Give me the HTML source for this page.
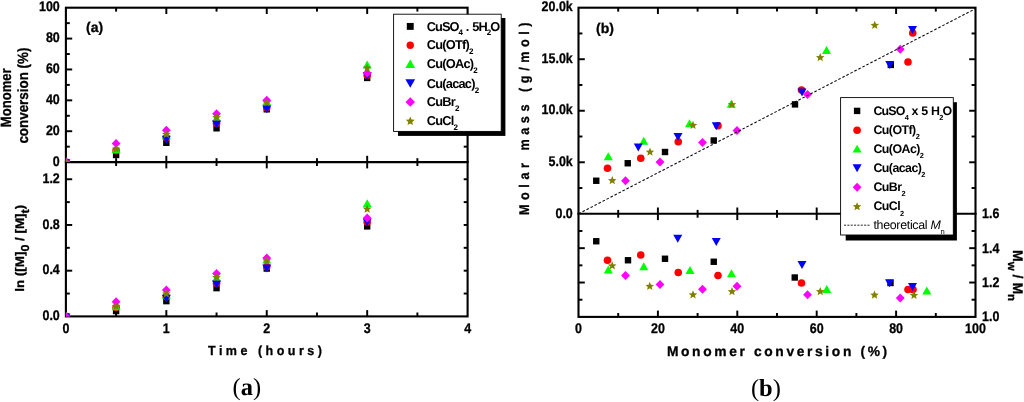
<!DOCTYPE html>
<html lang="en">
<head>
<meta charset="utf-8">
<title>Figure</title>
<style>
html,body{margin:0;padding:0;background:#fff;}
body{width:1024px;height:402px;overflow:hidden;}
svg{display:block;}
</style>
</head>
<body>
<svg width="1024" height="402" viewBox="0 0 1024 402" text-rendering="geometricPrecision">
<rect x="0" y="0" width="1024" height="402" fill="#fff"/>
<g stroke="#000" stroke-width="2.1" fill="none" stroke-linecap="square">
<rect x="65.9" y="7.7" width="401.70000000000005" height="308.7"/>
<line x1="65.9" y1="162.1" x2="467.6" y2="162.1"/>
</g>
<g stroke="#000" stroke-width="1.95" fill="none">
<line x1="116.11" y1="7.7" x2="116.11" y2="11.60"/>
<line x1="116.11" y1="158.20" x2="116.11" y2="166.00"/>
<line x1="116.11" y1="316.4" x2="116.11" y2="312.50"/>
<line x1="166.33" y1="7.7" x2="166.33" y2="14.00"/>
<line x1="166.33" y1="155.80" x2="166.33" y2="168.40"/>
<line x1="166.33" y1="316.4" x2="166.33" y2="310.10"/>
<line x1="216.54" y1="7.7" x2="216.54" y2="11.60"/>
<line x1="216.54" y1="158.20" x2="216.54" y2="166.00"/>
<line x1="216.54" y1="316.4" x2="216.54" y2="312.50"/>
<line x1="266.75" y1="7.7" x2="266.75" y2="14.00"/>
<line x1="266.75" y1="155.80" x2="266.75" y2="168.40"/>
<line x1="266.75" y1="316.4" x2="266.75" y2="310.10"/>
<line x1="316.96" y1="7.7" x2="316.96" y2="11.60"/>
<line x1="316.96" y1="158.20" x2="316.96" y2="166.00"/>
<line x1="316.96" y1="316.4" x2="316.96" y2="312.50"/>
<line x1="367.18" y1="7.7" x2="367.18" y2="14.00"/>
<line x1="367.18" y1="155.80" x2="367.18" y2="168.40"/>
<line x1="367.18" y1="316.4" x2="367.18" y2="310.10"/>
<line x1="417.39" y1="7.7" x2="417.39" y2="11.60"/>
<line x1="417.39" y1="158.20" x2="417.39" y2="166.00"/>
<line x1="417.39" y1="316.4" x2="417.39" y2="312.50"/>
<line x1="65.9" y1="146.66" x2="69.80" y2="146.66"/>
<line x1="467.6" y1="146.66" x2="463.70" y2="146.66"/>
<line x1="65.9" y1="131.22" x2="72.20" y2="131.22"/>
<line x1="467.6" y1="131.22" x2="463.70" y2="131.22"/>
<line x1="65.9" y1="115.78" x2="69.80" y2="115.78"/>
<line x1="467.6" y1="115.78" x2="463.70" y2="115.78"/>
<line x1="65.9" y1="100.34" x2="72.20" y2="100.34"/>
<line x1="467.6" y1="100.34" x2="463.70" y2="100.34"/>
<line x1="65.9" y1="84.90" x2="69.80" y2="84.90"/>
<line x1="467.6" y1="84.90" x2="463.70" y2="84.90"/>
<line x1="65.9" y1="69.46" x2="72.20" y2="69.46"/>
<line x1="467.6" y1="69.46" x2="463.70" y2="69.46"/>
<line x1="65.9" y1="54.02" x2="69.80" y2="54.02"/>
<line x1="467.6" y1="54.02" x2="463.70" y2="54.02"/>
<line x1="65.9" y1="38.58" x2="72.20" y2="38.58"/>
<line x1="467.6" y1="38.58" x2="463.70" y2="38.58"/>
<line x1="65.9" y1="23.14" x2="69.80" y2="23.14"/>
<line x1="467.6" y1="23.14" x2="463.70" y2="23.14"/>
<line x1="65.9" y1="293.54" x2="69.80" y2="293.54"/>
<line x1="467.6" y1="293.54" x2="463.70" y2="293.54"/>
<line x1="65.9" y1="270.68" x2="72.20" y2="270.68"/>
<line x1="467.6" y1="270.68" x2="463.70" y2="270.68"/>
<line x1="65.9" y1="247.82" x2="69.80" y2="247.82"/>
<line x1="467.6" y1="247.82" x2="463.70" y2="247.82"/>
<line x1="65.9" y1="224.97" x2="72.20" y2="224.97"/>
<line x1="467.6" y1="224.97" x2="463.70" y2="224.97"/>
<line x1="65.9" y1="202.11" x2="69.80" y2="202.11"/>
<line x1="467.6" y1="202.11" x2="463.70" y2="202.11"/>
<line x1="65.9" y1="179.25" x2="72.20" y2="179.25"/>
<line x1="467.6" y1="179.25" x2="463.70" y2="179.25"/>
</g>
<clipPath id="ca1"><rect x="65.9" y="0" width="401.70000000000005" height="162.1"/></clipPath>
<clipPath id="ca2"><rect x="65.9" y="163.15" width="401.70000000000005" height="153.24999999999997"/></clipPath>
<g clip-path="url(#ca1)">
<rect x="62.70" y="158.90" width="6.40" height="6.40" fill="#000000"/>
<rect x="112.91" y="151.80" width="6.40" height="6.40" fill="#000000"/>
<rect x="163.13" y="139.60" width="6.40" height="6.40" fill="#000000"/>
<rect x="213.34" y="125.09" width="6.40" height="6.40" fill="#000000"/>
<rect x="263.55" y="106.10" width="6.40" height="6.40" fill="#000000"/>
<rect x="363.98" y="74.75" width="6.40" height="6.40" fill="#000000"/>
<circle cx="65.90" cy="162.10" r="3.80" fill="#ff0000"/>
<circle cx="116.11" cy="150.67" r="3.80" fill="#ff0000"/>
<circle cx="166.33" cy="137.70" r="3.80" fill="#ff0000"/>
<circle cx="216.54" cy="123.19" r="3.80" fill="#ff0000"/>
<circle cx="266.75" cy="107.75" r="3.80" fill="#ff0000"/>
<circle cx="367.18" cy="75.33" r="3.80" fill="#ff0000"/>
<polygon points="65.90,157.10 70.40,165.00 61.40,165.00" fill="#00ff00"/>
<polygon points="116.11,145.37 120.61,153.27 111.61,153.27" fill="#00ff00"/>
<polygon points="166.33,131.62 170.83,139.52 161.83,139.52" fill="#00ff00"/>
<polygon points="216.54,113.87 221.04,121.77 212.04,121.77" fill="#00ff00"/>
<polygon points="266.75,97.50 271.25,105.40 262.25,105.40" fill="#00ff00"/>
<polygon points="367.18,60.60 371.68,68.50 362.68,68.50" fill="#00ff00"/>
<polygon points="65.90,167.10 70.40,159.20 61.40,159.20" fill="#0000ff"/>
<polygon points="166.33,143.63 170.83,135.73 161.83,135.73" fill="#0000ff"/>
<polygon points="216.54,128.50 221.04,120.60 212.04,120.60" fill="#0000ff"/>
<polygon points="266.75,113.37 271.25,105.47 262.25,105.47" fill="#0000ff"/>
<polygon points="367.18,80.02 371.68,72.12 362.68,72.12" fill="#0000ff"/>
<polygon points="65.90,157.60 70.30,162.10 65.90,166.60 61.50,162.10" fill="#ff00ff"/>
<polygon points="116.11,139.07 120.51,143.57 116.11,148.07 111.71,143.57" fill="#ff00ff"/>
<polygon points="166.33,125.79 170.73,130.29 166.33,134.79 161.93,130.29" fill="#ff00ff"/>
<polygon points="216.54,109.27 220.94,113.77 216.54,118.27 212.14,113.77" fill="#ff00ff"/>
<polygon points="266.75,95.84 271.15,100.34 266.75,104.84 262.35,100.34" fill="#ff00ff"/>
<polygon points="367.18,68.51 371.58,73.01 367.18,77.51 362.78,73.01" fill="#ff00ff"/>
<polygon points="65.90,157.90 67.10,160.74 70.18,161.01 67.85,163.03 68.55,166.04 65.90,164.45 63.25,166.04 63.95,163.03 61.62,161.01 64.70,160.74" fill="#808000"/>
<polygon points="116.11,144.62 117.32,147.46 120.39,147.73 118.06,149.76 118.76,152.76 116.11,151.17 113.47,152.76 114.16,149.76 111.83,147.73 114.91,147.46" fill="#808000"/>
<polygon points="166.33,129.95 167.53,132.80 170.60,133.06 168.27,135.09 168.97,138.09 166.33,136.50 163.68,138.09 164.38,135.09 162.05,133.06 165.12,132.80" fill="#808000"/>
<polygon points="216.54,113.12 217.74,115.97 220.82,116.23 218.49,118.26 219.18,121.26 216.54,119.67 213.89,121.26 214.59,118.26 212.26,116.23 215.33,115.97" fill="#808000"/>
<polygon points="266.75,98.15 267.95,100.99 271.03,101.26 268.70,103.28 269.40,106.29 266.75,104.70 264.10,106.29 264.80,103.28 262.47,101.26 265.55,100.99" fill="#808000"/>
<polygon points="367.18,63.72 368.38,66.56 371.45,66.83 369.12,68.85 369.82,71.86 367.18,70.27 364.53,71.86 365.23,68.85 362.90,66.83 365.97,66.56" fill="#808000"/>
</g>
<g clip-path="url(#ca2)">
<rect x="62.70" y="313.20" width="6.40" height="6.40" fill="#000000"/>
<rect x="112.91" y="307.82" width="6.40" height="6.40" fill="#000000"/>
<rect x="163.13" y="297.94" width="6.40" height="6.40" fill="#000000"/>
<rect x="213.34" y="284.95" width="6.40" height="6.40" fill="#000000"/>
<rect x="263.55" y="265.36" width="6.40" height="6.40" fill="#000000"/>
<rect x="363.98" y="223.20" width="6.40" height="6.40" fill="#000000"/>
<circle cx="65.90" cy="316.40" r="3.80" fill="#ff0000"/>
<circle cx="116.11" cy="307.61" r="3.80" fill="#ff0000"/>
<circle cx="166.33" cy="296.74" r="3.80" fill="#ff0000"/>
<circle cx="216.54" cy="283.22" r="3.80" fill="#ff0000"/>
<circle cx="266.75" cy="266.81" r="3.80" fill="#ff0000"/>
<circle cx="367.18" cy="222.05" r="3.80" fill="#ff0000"/>
<polygon points="65.90,311.40 70.40,319.30 61.40,319.30" fill="#00ff00"/>
<polygon points="116.11,302.37 120.61,310.27 111.61,310.27" fill="#00ff00"/>
<polygon points="166.33,290.79 170.83,298.69 161.83,298.69" fill="#00ff00"/>
<polygon points="216.54,273.85 221.04,281.75 212.04,281.75" fill="#00ff00"/>
<polygon points="266.75,255.65 271.25,263.55 262.25,263.55" fill="#00ff00"/>
<polygon points="367.18,199.30 371.68,207.20 362.68,207.20" fill="#00ff00"/>
<polygon points="65.90,321.40 70.40,313.50 61.40,313.50" fill="#0000ff"/>
<polygon points="166.33,302.56 170.83,294.66 161.83,294.66" fill="#0000ff"/>
<polygon points="216.54,288.52 221.04,280.62 212.04,280.62" fill="#0000ff"/>
<polygon points="266.75,272.52 271.25,264.62 262.25,264.62" fill="#0000ff"/>
<polygon points="367.18,226.52 371.68,218.62 362.68,218.62" fill="#0000ff"/>
<polygon points="65.90,311.90 70.30,316.40 65.90,320.90 61.50,316.40" fill="#ff00ff"/>
<polygon points="116.11,297.29 120.51,301.79 116.11,306.29 111.71,301.79" fill="#ff00ff"/>
<polygon points="166.33,285.54 170.73,290.04 166.33,294.54 161.93,290.04" fill="#ff00ff"/>
<polygon points="216.54,268.99 220.94,273.49 216.54,277.99 212.14,273.49" fill="#ff00ff"/>
<polygon points="266.75,253.52 271.15,258.02 266.75,262.52 262.35,258.02" fill="#ff00ff"/>
<polygon points="367.18,213.57 371.58,218.07 367.18,222.57 362.78,218.07" fill="#ff00ff"/>
<polygon points="116.11,301.92 117.32,304.76 120.39,305.03 118.06,307.06 118.76,310.06 116.11,308.47 113.47,310.06 114.16,307.06 111.83,305.03 114.91,304.76" fill="#808000"/>
<polygon points="166.33,289.38 167.53,292.22 170.60,292.49 168.27,294.51 168.97,297.52 166.33,295.93 163.68,297.52 164.38,294.51 162.05,292.49 165.12,292.22" fill="#808000"/>
<polygon points="216.54,273.06 217.74,275.90 220.82,276.17 218.49,278.19 219.18,281.20 216.54,279.61 213.89,281.20 214.59,278.19 212.26,276.17 215.33,275.90" fill="#808000"/>
<polygon points="266.75,256.27 267.95,259.11 271.03,259.38 268.70,261.40 269.40,264.41 266.75,262.82 264.10,264.41 264.80,261.40 262.47,259.38 265.55,259.11" fill="#808000"/>
<polygon points="367.18,204.58 368.38,207.42 371.45,207.69 369.12,209.72 369.82,212.72 367.18,211.13 364.53,212.72 365.23,209.72 362.90,207.69 365.97,207.42" fill="#808000"/>
</g>
<g font-family='"Liberation Sans", Arial, sans-serif' font-weight="bold" fill="#000" stroke="#000" stroke-width="0.3" stroke-linejoin="round">
<text transform="translate(59.80,165.80) scale(0.89,1)" text-anchor="end" font-size="14" >0</text>
<text transform="translate(59.80,134.92) scale(0.89,1)" text-anchor="end" font-size="14" >20</text>
<text transform="translate(59.80,104.04) scale(0.89,1)" text-anchor="end" font-size="14" >40</text>
<text transform="translate(59.80,73.16) scale(0.89,1)" text-anchor="end" font-size="14" >60</text>
<text transform="translate(59.80,42.28) scale(0.89,1)" text-anchor="end" font-size="14" >80</text>
<text transform="translate(59.80,11.40) scale(0.89,1)" text-anchor="end" font-size="14" >100</text>
<text transform="translate(59.80,320.10) scale(0.89,1)" text-anchor="end" font-size="14" >0.0</text>
<text transform="translate(59.80,274.38) scale(0.89,1)" text-anchor="end" font-size="14" >0.4</text>
<text transform="translate(59.80,228.67) scale(0.89,1)" text-anchor="end" font-size="14" >0.8</text>
<text transform="translate(59.80,182.95) scale(0.89,1)" text-anchor="end" font-size="14" >1.2</text>
<text transform="translate(65.90,333.10) scale(0.89,1)" text-anchor="middle" font-size="14" >0</text>
<text transform="translate(166.33,333.10) scale(0.89,1)" text-anchor="middle" font-size="14" >1</text>
<text transform="translate(266.75,333.10) scale(0.89,1)" text-anchor="middle" font-size="14" >2</text>
<text transform="translate(367.18,333.10) scale(0.89,1)" text-anchor="middle" font-size="14" >3</text>
<text transform="translate(467.60,333.10) scale(0.89,1)" text-anchor="middle" font-size="14" >4</text>
<text transform="translate(11.40,97.80) rotate(-90) scale(0.885,1)" text-anchor="middle" font-size="14.8" >Monomer</text>
<text transform="translate(27.50,95.60) rotate(-90) scale(0.905,1)" text-anchor="middle" font-size="14.8" >conversion (%)</text>
<text transform="translate(24.00,248.30) rotate(-90) scale(1.08,1)" text-anchor="middle" font-size="12.4" >ln ([M]<tspan font-size="11.5" dy="4.5">0</tspan><tspan dy="-4.5"> / [M]</tspan><tspan font-size="11.5" dy="4.5">t</tspan><tspan dy="-4.5">)</tspan></text>
<text transform="translate(208.00,355.40) scale(0.95,1)" text-anchor="start" font-size="13.2" textLength="120.0" lengthAdjust="spacing">Time (hours)</text>
<text transform="translate(86.00,32.10)" text-anchor="start" font-size="14" >(a)</text>
</g>
<rect x="398.0" y="18.0" width="107.39999999999996" height="117.9" fill="#000"/>
<rect x="393.6" y="14.2" width="107.59999999999997" height="117.2" fill="#fff" stroke="#000" stroke-width="0.9"/>
<rect x="406.80" y="22.95" width="6.90" height="6.90" fill="#000000"/>
<circle cx="410.25" cy="45.20" r="3.69" fill="#ff0000"/>
<polygon points="410.25,59.58 415.11,68.11 405.39,68.11" fill="#00ff00"/>
<polygon points="410.25,87.82 415.11,79.29 405.39,79.29" fill="#0000ff"/>
<polygon points="410.25,97.14 415.00,102.00 410.25,106.86 405.50,102.00" fill="#ff00ff"/>
<polygon points="410.25,116.62 411.50,119.58 414.70,119.85 412.28,121.96 413.00,125.09 410.25,123.43 407.50,125.09 408.22,121.96 405.80,119.85 409.00,119.58" fill="#808000"/>
<g font-family='"Liberation Sans", Arial, sans-serif' font-weight="bold" fill="#000" letter-spacing="-0.75">
<text transform="translate(426.70,30.60)" text-anchor="start" font-size="12.8" word-spacing="1.1" letter-spacing="-0.92">CuSO<tspan font-size="8" dy="4">4</tspan><tspan dy="-4"> . 5H</tspan><tspan font-size="8" dy="4">2</tspan><tspan dy="-4">O</tspan></text>
<text transform="translate(426.70,49.40)" text-anchor="start" font-size="12.8" >Cu(OTf)<tspan font-size="8" dy="5">2</tspan></text>
<text transform="translate(426.70,68.00)" text-anchor="start" font-size="12.8" >Cu(OAc)<tspan font-size="8" dy="5">2</tspan></text>
<text transform="translate(426.70,87.60)" text-anchor="start" font-size="12.8" >Cu(acac)<tspan font-size="8" dy="5">2</tspan></text>
<text transform="translate(426.70,106.00)" text-anchor="start" font-size="12.8" >CuBr<tspan font-size="8" dy="5">2</tspan></text>
<text transform="translate(426.70,125.00)" text-anchor="start" font-size="12.8" >CuCl<tspan font-size="8" dy="5">2</tspan></text>
</g>
<rect x="593.05" y="177.55" width="6.40" height="6.40" fill="#000000"/>
<rect x="624.55" y="160.05" width="6.40" height="6.40" fill="#000000"/>
<rect x="661.80" y="148.80" width="6.40" height="6.40" fill="#000000"/>
<rect x="710.55" y="137.30" width="6.40" height="6.40" fill="#000000"/>
<rect x="791.80" y="101.20" width="6.40" height="6.40" fill="#000000"/>
<rect x="887.60" y="61.70" width="6.40" height="6.40" fill="#000000"/>
<circle cx="607.50" cy="168.25" r="3.80" fill="#ff0000"/>
<circle cx="640.75" cy="158.25" r="3.80" fill="#ff0000"/>
<circle cx="678.25" cy="141.75" r="3.80" fill="#ff0000"/>
<circle cx="718.00" cy="125.75" r="3.80" fill="#ff0000"/>
<circle cx="801.50" cy="90.00" r="3.80" fill="#ff0000"/>
<circle cx="908.00" cy="62.00" r="3.80" fill="#ff0000"/>
<circle cx="912.75" cy="33.00" r="3.80" fill="#ff0000"/>
<polygon points="608.25,152.25 612.75,160.15 603.75,160.15" fill="#00ff00"/>
<polygon points="643.75,136.75 648.25,144.65 639.25,144.65" fill="#00ff00"/>
<polygon points="689.50,119.25 694.00,127.15 685.00,127.15" fill="#00ff00"/>
<polygon points="731.25,99.75 735.75,107.65 726.75,107.65" fill="#00ff00"/>
<polygon points="826.50,46.00 831.00,53.90 822.00,53.90" fill="#00ff00"/>
<polygon points="638.25,151.50 642.75,143.60 633.75,143.60" fill="#0000ff"/>
<polygon points="678.00,141.00 682.50,133.10 673.50,133.10" fill="#0000ff"/>
<polygon points="716.25,130.25 720.75,122.35 711.75,122.35" fill="#0000ff"/>
<polygon points="802.00,96.50 806.50,88.60 797.50,88.60" fill="#0000ff"/>
<polygon points="889.75,69.00 894.25,61.10 885.25,61.10" fill="#0000ff"/>
<polygon points="912.50,34.00 917.00,26.10 908.00,26.10" fill="#0000ff"/>
<polygon points="625.50,176.25 629.90,180.75 625.50,185.25 621.10,180.75" fill="#ff00ff"/>
<polygon points="660.00,157.50 664.40,162.00 660.00,166.50 655.60,162.00" fill="#ff00ff"/>
<polygon points="702.50,138.00 706.90,142.50 702.50,147.00 698.10,142.50" fill="#ff00ff"/>
<polygon points="737.00,126.00 741.40,130.50 737.00,135.00 732.60,130.50" fill="#ff00ff"/>
<polygon points="807.50,90.00 811.90,94.50 807.50,99.00 803.10,94.50" fill="#ff00ff"/>
<polygon points="900.25,44.75 904.65,49.25 900.25,53.75 895.85,49.25" fill="#ff00ff"/>
<polygon points="612.25,176.05 613.45,178.89 616.53,179.16 614.20,181.18 614.90,184.19 612.25,182.60 609.60,184.19 610.30,181.18 607.97,179.16 611.05,178.89" fill="#808000"/>
<polygon points="650.00,147.55 651.20,150.39 654.28,150.66 651.95,152.68 652.65,155.69 650.00,154.10 647.35,155.69 648.05,152.68 645.72,150.66 648.80,150.39" fill="#808000"/>
<polygon points="693.00,120.80 694.20,123.64 697.28,123.91 694.95,125.93 695.65,128.94 693.00,127.35 690.35,128.94 691.05,125.93 688.72,123.91 691.80,123.64" fill="#808000"/>
<polygon points="732.00,100.05 733.20,102.89 736.28,103.16 733.95,105.18 734.65,108.19 732.00,106.60 729.35,108.19 730.05,105.18 727.72,103.16 730.80,102.89" fill="#808000"/>
<polygon points="820.25,53.05 821.45,55.89 824.53,56.16 822.20,58.18 822.90,61.19 820.25,59.60 817.60,61.19 818.30,58.18 815.97,56.16 819.05,55.89" fill="#808000"/>
<polygon points="874.75,20.80 875.95,23.64 879.03,23.91 876.70,25.93 877.40,28.94 874.75,27.35 872.10,28.94 872.80,25.93 870.47,23.91 873.55,23.64" fill="#808000"/>
<rect x="593.05" y="238.05" width="6.40" height="6.40" fill="#000000"/>
<rect x="624.80" y="257.05" width="6.40" height="6.40" fill="#000000"/>
<rect x="661.80" y="255.55" width="6.40" height="6.40" fill="#000000"/>
<rect x="710.55" y="258.55" width="6.40" height="6.40" fill="#000000"/>
<rect x="791.55" y="274.30" width="6.40" height="6.40" fill="#000000"/>
<rect x="887.30" y="279.80" width="6.40" height="6.40" fill="#000000"/>
<circle cx="607.50" cy="260.25" r="3.80" fill="#ff0000"/>
<circle cx="640.75" cy="255.00" r="3.80" fill="#ff0000"/>
<circle cx="678.25" cy="272.50" r="3.80" fill="#ff0000"/>
<circle cx="718.00" cy="275.50" r="3.80" fill="#ff0000"/>
<circle cx="801.50" cy="283.00" r="3.80" fill="#ff0000"/>
<circle cx="908.00" cy="289.50" r="3.80" fill="#ff0000"/>
<circle cx="913.00" cy="289.50" r="3.80" fill="#ff0000"/>
<polygon points="608.25,265.50 612.75,273.40 603.75,273.40" fill="#00ff00"/>
<polygon points="643.75,262.25 648.25,270.15 639.25,270.15" fill="#00ff00"/>
<polygon points="690.00,266.00 694.50,273.90 685.50,273.90" fill="#00ff00"/>
<polygon points="731.50,269.25 736.00,277.15 727.00,277.15" fill="#00ff00"/>
<polygon points="826.75,285.00 831.25,292.90 822.25,292.90" fill="#00ff00"/>
<polygon points="926.75,286.50 931.25,294.40 922.25,294.40" fill="#00ff00"/>
<polygon points="677.75,242.75 682.25,234.85 673.25,234.85" fill="#0000ff"/>
<polygon points="716.25,246.00 720.75,238.10 711.75,238.10" fill="#0000ff"/>
<polygon points="802.00,269.00 806.50,261.10 797.50,261.10" fill="#0000ff"/>
<polygon points="889.50,287.25 894.00,279.35 885.00,279.35" fill="#0000ff"/>
<polygon points="912.50,291.00 917.00,283.10 908.00,283.10" fill="#0000ff"/>
<polygon points="625.50,271.00 629.90,275.50 625.50,280.00 621.10,275.50" fill="#ff00ff"/>
<polygon points="660.00,280.00 664.40,284.50 660.00,289.00 655.60,284.50" fill="#ff00ff"/>
<polygon points="702.50,284.75 706.90,289.25 702.50,293.75 698.10,289.25" fill="#ff00ff"/>
<polygon points="737.00,281.75 741.40,286.25 737.00,290.75 732.60,286.25" fill="#ff00ff"/>
<polygon points="807.50,290.25 811.90,294.75 807.50,299.25 803.10,294.75" fill="#ff00ff"/>
<polygon points="900.25,293.50 904.65,298.00 900.25,302.50 895.85,298.00" fill="#ff00ff"/>
<polygon points="612.25,261.30 613.45,264.14 616.53,264.41 614.20,266.43 614.90,269.44 612.25,267.85 609.60,269.44 610.30,266.43 607.97,264.41 611.05,264.14" fill="#808000"/>
<polygon points="649.75,281.80 650.95,284.64 654.03,284.91 651.70,286.93 652.40,289.94 649.75,288.35 647.10,289.94 647.80,286.93 645.47,284.91 648.55,284.64" fill="#808000"/>
<polygon points="693.00,290.30 694.20,293.14 697.28,293.41 694.95,295.43 695.65,298.44 693.00,296.85 690.35,298.44 691.05,295.43 688.72,293.41 691.80,293.14" fill="#808000"/>
<polygon points="732.00,287.05 733.20,289.89 736.28,290.16 733.95,292.18 734.65,295.19 732.00,293.60 729.35,295.19 730.05,292.18 727.72,290.16 730.80,289.89" fill="#808000"/>
<polygon points="820.25,287.05 821.45,289.89 824.53,290.16 822.20,292.18 822.90,295.19 820.25,293.60 817.60,295.19 818.30,292.18 815.97,290.16 819.05,289.89" fill="#808000"/>
<polygon points="874.50,290.55 875.70,293.39 878.78,293.66 876.45,295.68 877.15,298.69 874.50,297.10 871.85,298.69 872.55,295.68 870.22,293.66 873.30,293.39" fill="#808000"/>
<polygon points="914.00,290.80 915.20,293.64 918.28,293.91 915.95,295.93 916.65,298.94 914.00,297.35 911.35,298.94 912.05,295.93 909.72,293.91 912.80,293.64" fill="#808000"/>
<line x1="578.5" y1="213.8" x2="975.5" y2="8.7" stroke="#000" stroke-width="1.05" stroke-dasharray="2.6,1.9"/>
<g stroke="#000" stroke-width="2.1" fill="none" stroke-linecap="square">
<rect x="578.5" y="7.7" width="397.0" height="309.2"/>
<line x1="578.5" y1="213.8" x2="975.5" y2="213.8"/>
</g>
<g stroke="#000" stroke-width="1.95" fill="none">
<line x1="618.20" y1="7.7" x2="618.20" y2="11.60"/>
<line x1="618.20" y1="209.90" x2="618.20" y2="217.70"/>
<line x1="618.20" y1="316.9" x2="618.20" y2="313.00"/>
<line x1="657.90" y1="7.7" x2="657.90" y2="14.00"/>
<line x1="657.90" y1="207.50" x2="657.90" y2="220.10"/>
<line x1="657.90" y1="316.9" x2="657.90" y2="310.60"/>
<line x1="697.60" y1="7.7" x2="697.60" y2="11.60"/>
<line x1="697.60" y1="209.90" x2="697.60" y2="217.70"/>
<line x1="697.60" y1="316.9" x2="697.60" y2="313.00"/>
<line x1="737.30" y1="7.7" x2="737.30" y2="14.00"/>
<line x1="737.30" y1="207.50" x2="737.30" y2="220.10"/>
<line x1="737.30" y1="316.9" x2="737.30" y2="310.60"/>
<line x1="777.00" y1="7.7" x2="777.00" y2="11.60"/>
<line x1="777.00" y1="209.90" x2="777.00" y2="217.70"/>
<line x1="777.00" y1="316.9" x2="777.00" y2="313.00"/>
<line x1="816.70" y1="7.7" x2="816.70" y2="14.00"/>
<line x1="816.70" y1="207.50" x2="816.70" y2="220.10"/>
<line x1="816.70" y1="316.9" x2="816.70" y2="310.60"/>
<line x1="856.40" y1="7.7" x2="856.40" y2="11.60"/>
<line x1="856.40" y1="209.90" x2="856.40" y2="217.70"/>
<line x1="856.40" y1="316.9" x2="856.40" y2="313.00"/>
<line x1="896.10" y1="7.7" x2="896.10" y2="14.00"/>
<line x1="896.10" y1="207.50" x2="896.10" y2="220.10"/>
<line x1="896.10" y1="316.9" x2="896.10" y2="310.60"/>
<line x1="935.80" y1="7.7" x2="935.80" y2="11.60"/>
<line x1="935.80" y1="209.90" x2="935.80" y2="217.70"/>
<line x1="935.80" y1="316.9" x2="935.80" y2="313.00"/>
<line x1="578.5" y1="188.04" x2="582.40" y2="188.04"/>
<line x1="975.5" y1="188.04" x2="971.60" y2="188.04"/>
<line x1="578.5" y1="162.28" x2="584.80" y2="162.28"/>
<line x1="975.5" y1="162.28" x2="969.20" y2="162.28"/>
<line x1="578.5" y1="136.51" x2="582.40" y2="136.51"/>
<line x1="975.5" y1="136.51" x2="971.60" y2="136.51"/>
<line x1="578.5" y1="110.75" x2="584.80" y2="110.75"/>
<line x1="975.5" y1="110.75" x2="969.20" y2="110.75"/>
<line x1="578.5" y1="84.99" x2="582.40" y2="84.99"/>
<line x1="975.5" y1="84.99" x2="971.60" y2="84.99"/>
<line x1="578.5" y1="59.22" x2="584.80" y2="59.22"/>
<line x1="975.5" y1="59.22" x2="969.20" y2="59.22"/>
<line x1="578.5" y1="33.46" x2="582.40" y2="33.46"/>
<line x1="975.5" y1="33.46" x2="971.60" y2="33.46"/>
<line x1="578.5" y1="299.72" x2="582.40" y2="299.72"/>
<line x1="975.5" y1="299.72" x2="971.60" y2="299.72"/>
<line x1="578.5" y1="282.53" x2="584.80" y2="282.53"/>
<line x1="975.5" y1="282.53" x2="969.20" y2="282.53"/>
<line x1="578.5" y1="265.35" x2="582.40" y2="265.35"/>
<line x1="975.5" y1="265.35" x2="971.60" y2="265.35"/>
<line x1="578.5" y1="248.17" x2="584.80" y2="248.17"/>
<line x1="975.5" y1="248.17" x2="969.20" y2="248.17"/>
<line x1="578.5" y1="230.98" x2="582.40" y2="230.98"/>
<line x1="975.5" y1="230.98" x2="971.60" y2="230.98"/>
</g>
<g font-family='"Liberation Sans", Arial, sans-serif' font-weight="bold" fill="#000" stroke="#000" stroke-width="0.3" stroke-linejoin="round">
<text transform="translate(572.80,217.50) scale(0.89,1)" text-anchor="end" font-size="14" >0.0</text>
<text transform="translate(572.80,165.97) scale(0.89,1)" text-anchor="end" font-size="14" >5.0k</text>
<text transform="translate(572.80,114.45) scale(0.89,1)" text-anchor="end" font-size="14" >10.0k</text>
<text transform="translate(572.80,62.92) scale(0.89,1)" text-anchor="end" font-size="14" >15.0k</text>
<text transform="translate(572.80,11.40) scale(0.89,1)" text-anchor="end" font-size="14" >20.0k</text>
<text transform="translate(982.00,321.30) scale(0.89,1)" text-anchor="start" font-size="14" >1.0</text>
<text transform="translate(982.00,286.93) scale(0.89,1)" text-anchor="start" font-size="14" >1.2</text>
<text transform="translate(982.00,252.57) scale(0.89,1)" text-anchor="start" font-size="14" >1.4</text>
<text transform="translate(982.00,218.20) scale(0.89,1)" text-anchor="start" font-size="14" >1.6</text>
<text transform="translate(578.50,333.40) scale(0.89,1)" text-anchor="middle" font-size="14" >0</text>
<text transform="translate(657.90,333.40) scale(0.89,1)" text-anchor="middle" font-size="14" >20</text>
<text transform="translate(737.30,333.40) scale(0.89,1)" text-anchor="middle" font-size="14" >40</text>
<text transform="translate(816.70,333.40) scale(0.89,1)" text-anchor="middle" font-size="14" >60</text>
<text transform="translate(896.10,333.40) scale(0.89,1)" text-anchor="middle" font-size="14" >80</text>
<text transform="translate(975.50,333.40) scale(0.89,1)" text-anchor="middle" font-size="14" >100</text>
<text transform="translate(528.90,215.00) rotate(-90) scale(0.9,1)" text-anchor="start" font-size="14" textLength="213.9" lengthAdjust="spacing">Molar mass (g/mol)</text>
<text transform="translate(1013.00,275.60) rotate(90)" text-anchor="middle" font-size="14" >M<tspan font-size="11.5" dy="4.8">w</tspan><tspan dy="-4.8"> / M</tspan><tspan font-size="11.5" dy="4.8">n</tspan></text>
<text transform="translate(666.90,356.40)" text-anchor="start" font-size="13.8" textLength="220.3" lengthAdjust="spacing">Monomer conversion (%)</text>
<text transform="translate(596.00,33.30)" text-anchor="start" font-size="14" >(b)</text>
</g>
<rect x="845.7" y="102.19999999999999" width="111.19999999999993" height="138.3" fill="#000"/>
<rect x="840.6" y="97.6" width="112.69999999999993" height="137.4" fill="#fff" stroke="#000" stroke-width="0.9"/>
<rect x="853.90" y="107.70" width="6.40" height="6.40" fill="#000000"/>
<circle cx="857.10" cy="130.30" r="3.80" fill="#ff0000"/>
<polygon points="857.10,144.70 861.60,152.60 852.60,152.60" fill="#00ff00"/>
<polygon points="857.10,172.20 861.60,164.30 852.60,164.30" fill="#0000ff"/>
<polygon points="857.10,182.80 861.50,187.30 857.10,191.80 852.70,187.30" fill="#ff00ff"/>
<polygon points="857.10,202.20 858.30,205.04 861.38,205.31 859.05,207.33 859.75,210.34 857.10,208.75 854.45,210.34 855.15,207.33 852.82,205.31 855.90,205.04" fill="#808000"/>
<g font-family='"Liberation Sans", Arial, sans-serif' font-weight="bold" fill="#000" letter-spacing="-0.55">
<text transform="translate(873.40,115.10)" text-anchor="start" font-size="12.4" word-spacing="0.9" letter-spacing="-0.78">CuSO<tspan font-size="7.4" dy="4.7">4</tspan><tspan dy="-4.7"> x 5 H</tspan><tspan font-size="7.4" dy="4.7">2</tspan><tspan dy="-4.7">O</tspan></text>
<text transform="translate(873.40,133.90)" text-anchor="start" font-size="12.4" >Cu(OTf)<tspan font-size="7.4" dy="5.2">2</tspan></text>
<text transform="translate(873.40,153.00)" text-anchor="start" font-size="12.4" >Cu(OAc)<tspan font-size="7.4" dy="5.2">2</tspan></text>
<text transform="translate(873.40,172.20)" text-anchor="start" font-size="12.4" >Cu(acac)<tspan font-size="7.4" dy="5.2">2</tspan></text>
<text transform="translate(873.40,191.20)" text-anchor="start" font-size="12.4" >CuBr<tspan font-size="7.4" dy="5.2">2</tspan></text>
<text transform="translate(873.40,210.30)" text-anchor="start" font-size="12.4" >CuCl<tspan font-size="7.4" dy="5.2">2</tspan></text>
</g>
<line x1="844" y1="225.2" x2="869.7" y2="225.2" stroke="#000" stroke-width="0.85" stroke-dasharray="2.1,1.25"/>
<g font-family='"Liberation Sans", Arial, sans-serif' fill="#000" letter-spacing="-0.3">
<text transform="translate(873.40,229.30)" text-anchor="start" font-size="12.4" >theoretical <tspan font-style="italic">M</tspan><tspan font-size="7.6" dy="4.5">n</tspan></text>
</g>
<g font-family='"Liberation Serif", "Times New Roman", serif' fill="#000">
<text transform="translate(246.80,394.90)" text-anchor="middle" font-size="24.5" >(<tspan font-weight="bold">a</tspan>)</text>
<text transform="translate(765.90,396.30)" text-anchor="middle" font-size="24.5" >(<tspan font-weight="bold">b</tspan>)</text>
</g>
</svg>
</body>
</html>
